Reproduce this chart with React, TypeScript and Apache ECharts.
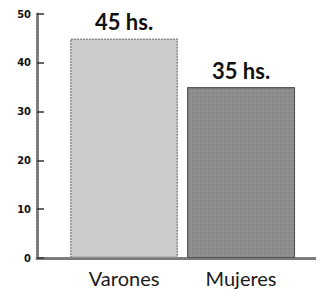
import React, { useEffect, useRef } from "react";
import * as echarts from "echarts";

const categories = ["Varones", "Mujeres"];
const values = [45, 35];
const valueLabels = ["45 hs.", "35 hs."];
const yTicks = [0, 10, 20, 30, 40, 50];

export default function App() {
  const ref = useRef<HTMLDivElement>(null);
  useEffect(() => {
    if (!ref.current) return;
    const chart = echarts.init(ref.current, undefined, { renderer: "svg" });
    const barStyles = [
      {
        color: "#cccccc",
        borderColor: "#8a8a8a",
        borderWidth: 1.5,
        borderType: [2, 1] as any,
      },
      {
        color: "#8f8f8f",
        borderColor: "#555555",
        borderWidth: 1,
        decal: {
          symbol: "rect",
          symbolSize: 0.6,
          dashArrayX: [1.5, 1.5],
          dashArrayY: [1.5, 1.5],
          color: "#707070",
          rotation: 0,
        },
      },
    ];
    chart.setOption({
      animation: false,
      backgroundColor: "#ffffff",
      grid: { left: 37, right: 2, top: 14, bottom: 43, containLabel: false },
      xAxis: {
        type: "value",
        min: -0.744,
        max: 1.692,
        axisLine: {
          show: true,
          onZero: false,
          lineStyle: { color: "#7a7a7a", width: 3, type: [2, 1] },
        },
        axisTick: { show: false },
        splitLine: { show: false },
        axisLabel: {
          customValues: categories.map((_, i) => i),
          formatter: (v: number) => categories[Math.round(v)] ?? "",
          margin: 10,
          color: "#1a1a1a",
          fontFamily: "Lato",
          fontSize: 20,
        },
      },
      yAxis: {
        type: "value",
        min: yTicks[0],
        max: yTicks[yTicks.length - 1],
        interval: 10,
        axisLine: {
          show: true,
          onZero: false,
          lineStyle: { color: "#7a7a7a", width: 3, type: [2, 1] },
        },
        axisTick: {
          show: true,
          inside: true,
          length: 7,
          lineStyle: { color: "#333333", width: 1.5 },
        },
        splitLine: { show: false },
        axisLabel: {
          margin: 6,
          color: "#111111",
          fontFamily: "DejaVu Sans Condensed",
          fontWeight: "bold",
          fontSize: 11,
        },
      },
      series: [
        {
          type: "bar",
          barWidth: 108,
          data: categories.map((_, i) => ({
            value: [i, values[i]],
            itemStyle: barStyles[i],
            label: {
              show: true,
              position: "top",
              distance: 6,
              formatter: valueLabels[i],
              color: "#111111",
              fontFamily: "Lato",
              fontWeight: "bold",
              fontSize: 22,
            },
          })),
        },
      ],
    });
    return () => chart.dispose();
  }, []);
  return <div ref={ref} style={{ width: 324, height: 301, margin: -8 }} />;
}
